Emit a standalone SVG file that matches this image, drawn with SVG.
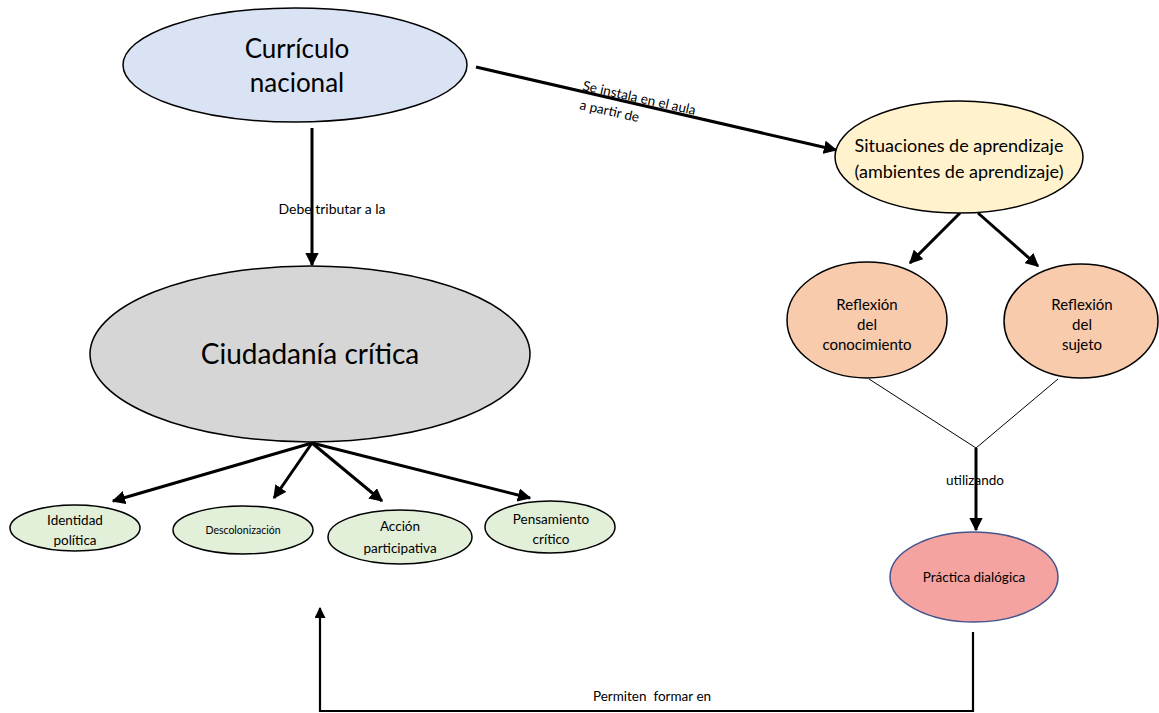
<svg xmlns="http://www.w3.org/2000/svg" width="1159" height="713" viewBox="0 0 1159 713">
  <style>
    text { font-family: Lato, "Open Sans", "Liberation Sans", sans-serif; fill: #000; text-anchor: middle; }
    .node { stroke: #000; stroke-width: 1.5; }
    .edge { fill: none; stroke: #000; stroke-width: 3; }
    .thin { fill: none; stroke: #000; stroke-width: 1; }
    .mid { fill: none; stroke: #000; stroke-width: 2.2; }
    .lbl { font-size: 13.5px; }
  </style>
  <defs>
    <marker id="arrow" viewBox="0 0 10 10" refX="9" refY="5" markerWidth="4.5" markerHeight="4.5" orient="auto" markerUnits="strokeWidth">
      <path d="M0,0 L10,5 L0,10 z" fill="#000"/>
    </marker>
    <marker id="arrow2" viewBox="0 0 10 10" refX="9" refY="5" markerWidth="5" markerHeight="5" orient="auto" markerUnits="strokeWidth">
      <path d="M0,0 L10,5 L0,10 z" fill="#000"/>
    </marker>
  </defs>
  <rect width="1159" height="713" fill="#fff"/>

  <g id="connectors">
    <line class="edge" x1="476" y1="67" x2="836" y2="150" marker-end="url(#arrow)"/>
    <line class="edge" x1="312" y1="128" x2="312" y2="265" marker-end="url(#arrow)"/>
    <line class="edge" x1="960" y1="213" x2="910" y2="263" marker-end="url(#arrow)"/>
    <line class="edge" x1="978" y1="213" x2="1038" y2="266" marker-end="url(#arrow)"/>
    <line class="edge" x1="312" y1="443" x2="113" y2="501" marker-end="url(#arrow)"/>
    <line class="edge" x1="312" y1="443" x2="274" y2="498" marker-end="url(#arrow)"/>
    <line class="edge" x1="312" y1="443" x2="382" y2="501" marker-end="url(#arrow)"/>
    <line class="edge" x1="312" y1="443" x2="530" y2="498" marker-end="url(#arrow)"/>
    <polyline class="thin" points="869,379 976,448 1058,379"/>
    <line class="edge" x1="976" y1="448" x2="976" y2="530" marker-end="url(#arrow)"/>
    <polyline class="mid" points="973,632 973,711 320,711 320,608" marker-end="url(#arrow2)"/>
    <text class="lbl" transform="translate(582,90) rotate(12.5)" style="text-anchor:start">Se instala en el aula</text>
    <text class="lbl" transform="translate(579,109) rotate(12.5)" style="text-anchor:start">a partir de</text>
    <text x="332" y="214" font-size="14">Debe tributar a la</text>
    <text class="lbl" x="975" y="485">utilizando</text>
    <text class="lbl" x="652" y="701" style="white-space:pre">Permiten  formar en</text>
  </g>

  <g id="curriculo-nacional">
    <ellipse class="node" cx="295" cy="65" rx="172" ry="57" fill="#dae3f3"/>
    <text x="297" y="58" font-size="26">Currículo</text>
    <text x="297" y="92" font-size="26">nacional</text>
  </g>

  <g id="situaciones">
    <ellipse class="node" cx="959" cy="157" rx="124" ry="56" fill="#fff2cc"/>
    <text x="959" y="152" font-size="18">Situaciones de aprendizaje</text>
    <text x="959" y="178" font-size="18">(ambientes de aprendizaje)</text>
  </g>

  <g id="reflexion-conocimiento">
    <ellipse class="node" cx="867" cy="320" rx="80" ry="58" fill="#f8cbad"/>
    <text x="867" y="310" font-size="15">Reflexión</text>
    <text x="867" y="330" font-size="15">del</text>
    <text x="867" y="350" font-size="15">conocimiento</text>
  </g>

  <g id="reflexion-sujeto">
    <ellipse class="node" cx="1081" cy="321" rx="77" ry="57" fill="#f8cbad"/>
    <text x="1082" y="310" font-size="15">Reflexión</text>
    <text x="1082" y="330" font-size="15">del</text>
    <text x="1082" y="350" font-size="15">sujeto</text>
  </g>

  <g id="ciudadania-critica">
    <ellipse class="node" cx="310" cy="354" rx="220" ry="88" fill="#d6d6d6"/>
    <text x="310" y="364" font-size="28">Ciudadanía crítica</text>
  </g>

  <g id="identidad-politica">
    <ellipse class="node" cx="75" cy="528" rx="65" ry="23" fill="#e2efd9"/>
    <text x="75" y="525" font-size="13.5">Identidad</text>
    <text x="75" y="545" font-size="13.5">política</text>
  </g>

  <g id="descolonizacion">
    <ellipse class="node" cx="243" cy="530" rx="70" ry="24" fill="#e2efd9"/>
    <text x="243" y="534" font-size="10.5">Descolonización</text>
  </g>

  <g id="accion-participativa">
    <ellipse class="node" cx="400" cy="537" rx="72" ry="27" fill="#e2efd9"/>
    <text x="400" y="531" font-size="13.5">Acción</text>
    <text x="400" y="553" font-size="13.5">participativa</text>
  </g>

  <g id="pensamiento-critico">
    <ellipse class="node" cx="550" cy="527" rx="65" ry="26" fill="#e2efd9"/>
    <text x="551" y="524" font-size="13.5">Pensamiento</text>
    <text x="551" y="544" font-size="13.5">crítico</text>
  </g>

  <g id="practica-dialogica">
    <ellipse cx="974" cy="577" rx="84" ry="45" fill="#f4a3a1" stroke="#44548c" stroke-width="1.5"/>
    <text x="974" y="582" font-size="13.5">Práctica dialógica</text>
  </g>
</svg>
